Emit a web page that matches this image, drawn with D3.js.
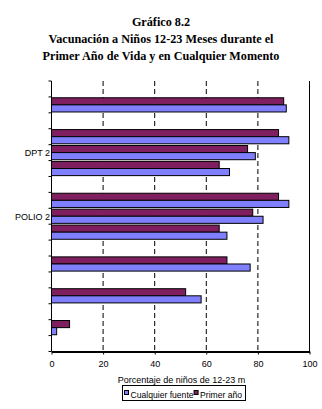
<!DOCTYPE html>
<html>
<head>
<meta charset="utf-8">
<script src="https://cdn.jsdelivr.net/npm/d3@7"></script>
<style>
body { margin: 0; background: #fff; }
svg { display: block; }
.title { font-family: "Liberation Serif", "Times New Roman", serif; font-weight: bold; font-size: 12.2px; }
.lbl { font-family: "Liberation Sans", Arial, sans-serif; font-size: 9px; }
.legText { font-family: "Liberation Sans", Arial, sans-serif; font-size: 8.6px; }
</style>
</head>
<body>
<script>
// bands from top to bottom, empty ones are spacers
var categories = ["", "", "", "", "DPT 2", "", "", "", "POLIO 2", "", "", "", "", "", "", "", ""];
var primerAno = [null, 90, null, 88, 76, 65, null, 88, 78, 65, null, 68, null, 52, null, 7, null];
var cualquier = [null, 91, null, 92, 79, 69, null, 92, 82, 68, null, 77, null, 58, null, 2, null];
var xTicks = [0, 20, 40, 60, 80, 100];
var series = [
	{ key: "primer", name: "Primer año", values: primerAno, color: "#7f1f5f" },
	{ key: "cualquier", name: "Cualquier fuente", values: cualquier, color: "#8080ff" }
];

var W = 322, H = 409;
var plotLeft = 51.5, plotRight = 309.5, plotTop = 81, plotBottom = 351.5;

var svg = d3.select("body").append("svg")
	.attr("width", W)
	.attr("height", H);

// titles
var titles = ["Gráfico 8.2", "Vacunación a Niños 12-23 Meses durante el", "Primer Año de Vida y en Cualquier Momento"];
svg.selectAll(".title")
	.data(titles)
	.enter()
	.append("text")
	.attr("class", "title")
	.attr("x", 161)
	.attr("y", function(d, i) { return 26 + i * 16.8; })
	.style("text-anchor", "middle")
	.text(function(d) { return d; });

var x = d3.scaleLinear().domain([0, 100]).range([plotLeft, plotRight]);
var y = d3.scaleBand().domain(d3.range(categories.length)).range([plotTop, plotBottom]);
var yInner = d3.scaleBand().domain(series.map(function(s) { return s.key; }))
	.range([0, y.bandwidth()]).paddingOuter(0.12);

// gridlines
svg.append("g")
	.selectAll("line")
	.data(xTicks.slice(1))
	.enter()
	.append("line")
	.attr("x1", function(d) { return x(d); })
	.attr("x2", function(d) { return x(d); })
	.attr("y1", plotTop)
	.attr("y2", plotBottom)
	.style("stroke", "black")
	.style("stroke-width", 1)
	.style("stroke-dasharray", function(d) { return d == 100 ? null : "5,3"; });

// bars
var groups = svg.append("g")
	.selectAll("g")
	.data(series)
	.enter()
	.append("g");

groups.selectAll("rect")
	.data(function(s) {
		return s.values.map(function(v, i) { return { i: i, v: v, key: s.key, color: s.color }; })
			.filter(function(d) { return d.v != null; });
	})
	.enter()
	.append("rect")
	.attr("x", x(0))
	.attr("y", function(d) { return y(d.i) + yInner(d.key); })
	.attr("width", function(d) { return x(d.v) - x(0); })
	.attr("height", yInner.bandwidth())
	.style("fill", function(d) { return d.color; })
	.style("stroke", "black")
	.style("stroke-width", 1);

// left axis: line, ticks on band edges, labels
svg.append("line")
	.attr("x1", plotLeft).attr("x2", plotLeft)
	.attr("y1", plotTop).attr("y2", plotBottom)
	.style("stroke", "black");

var edges = d3.range(categories.length + 1).map(function(i) { return plotTop + i * y.step(); });
svg.append("g")
	.selectAll("line")
	.data(edges)
	.enter()
	.append("line")
	.attr("x1", plotLeft - 3).attr("x2", plotLeft)
	.attr("y1", function(d) { return d; })
	.attr("y2", function(d) { return d; })
	.style("stroke", "black");

svg.append("g")
	.selectAll("text")
	.data(categories)
	.enter()
	.append("text")
	.attr("class", "lbl")
	.attr("x", plotLeft - 1.5)
	.attr("y", function(d, i) { return y(i) + y.bandwidth() / 2; })
	.attr("dy", ".40em")
	.style("text-anchor", "end")
	.text(function(d) { return d; });

// bottom axis
var xAxis = svg.append("g")
	.attr("transform", "translate(0," + plotBottom + ")")
	.call(d3.axisBottom(x).tickValues(xTicks).tickSize(3).tickSizeOuter(0).tickPadding(6));
xAxis.select(".domain").style("stroke-width", 2);
xAxis.selectAll("text")
	.attr("class", "lbl")
	.attr("font-size", null)
	.attr("font-family", null);

svg.append("text")
	.attr("class", "lbl")
	.attr("x", 181.5)
	.attr("y", 383)
	.style("text-anchor", "middle")
	.text("Porcentaje de niños de 12-23 m");

// legend, clipped by its box
var lx = 122.5, ly = 385.5, lw = 123, lh = 15;
svg.append("clipPath")
	.attr("id", "legendClip")
	.append("rect")
	.attr("x", lx).attr("y", ly)
	.attr("width", lw).attr("height", lh);

svg.append("rect")
	.attr("x", lx).attr("y", ly)
	.attr("width", lw).attr("height", lh)
	.style("fill", "white")
	.style("stroke", "black");

var legendItems = [series[1], series[0]];
var leg = svg.append("g")
	.attr("clip-path", "url(#legendClip)");

var cx = lx + 2;
legendItems.forEach(function(s) {
	var g = leg.append("g")
		.attr("transform", "translate(" + cx + "," + (ly + 4.5) + ")");
	g.append("rect")
		.attr("width", 4).attr("height", 4)
		.attr("y", 0.5)
		.style("fill", s.color)
		.style("stroke", "black");
	var t = g.append("text")
		.attr("class", "legText")
		.attr("x", 6)
		.attr("y", 7.5)
		.text(s.name);
	cx += 6.5 + t.node().getComputedTextLength();
});
</script>
</body>
</html>
